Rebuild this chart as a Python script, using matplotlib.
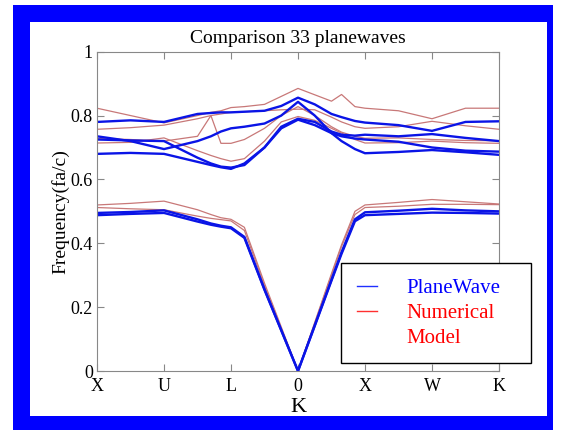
import matplotlib
matplotlib.use("Agg")
import matplotlib.pyplot as plt
from matplotlib.patches import Rectangle
from matplotlib.lines import Line2D

plt.rcParams['font.family'] = ['Liberation Serif', 'DejaVu Serif']

# path coordinate along X-U-L-Gamma-X-W-K
k = [0, 0.5, 1, 1.5, 1.7, 1.85, 2, 2.2, 2.5, 2.75, 3, 3.25, 3.5, 3.65, 3.85, 4, 4.5, 5, 5.5, 6]
tick_pos = [0, 1, 2, 3, 4, 5, 6]
tick_labels = ['X', 'U', 'L', '0', 'X', 'W', 'K']

# plane wave bands (blue)
pw_1 = [0.488, 0.492, 0.495, 0.468, 0.458, 0.452, 0.447, 0.417, 0.254, 0.127, 0.0, 0.141, 0.283, 0.367, 0.469, 0.488, 0.492, 0.496, 0.495, 0.493]
pw_2 = [0.495, 0.498, 0.503, 0.475, 0.462, 0.455, 0.450, 0.420, 0.256, 0.128, 0.0, 0.143, 0.286, 0.372, 0.475, 0.497, 0.502, 0.508, 0.503, 0.500]
pw_3 = [0.780, 0.785, 0.780, 0.805, 0.808, 0.810, 0.810, 0.812, 0.815, 0.830, 0.856, 0.835, 0.805, 0.795, 0.783, 0.778, 0.770, 0.752, 0.780, 0.782]
pw_4 = [0.735, 0.720, 0.695, 0.720, 0.735, 0.750, 0.760, 0.765, 0.775, 0.800, 0.843, 0.800, 0.745, 0.720, 0.695, 0.682, 0.686, 0.692, 0.685, 0.677]
pw_5 = [0.725, 0.722, 0.720, 0.668, 0.650, 0.640, 0.637, 0.645, 0.700, 0.765, 0.790, 0.780, 0.750, 0.740, 0.737, 0.740, 0.735, 0.742, 0.730, 0.720]
pw_6 = [0.680, 0.683, 0.680, 0.655, 0.645, 0.638, 0.633, 0.650, 0.700, 0.760, 0.787, 0.770, 0.745, 0.735, 0.728, 0.725, 0.718, 0.700, 0.690, 0.687]

# numerical model bands (red)
nm_1 = [0.512, 0.508, 0.505, 0.485, 0.478, 0.474, 0.470, 0.440, 0.268, 0.134, 0.0, 0.150, 0.300, 0.390, 0.490, 0.512, 0.516, 0.522, 0.522, 0.521]
nm_2 = [0.520, 0.525, 0.532, 0.505, 0.490, 0.480, 0.475, 0.450, 0.275, 0.138, 0.0, 0.152, 0.305, 0.395, 0.500, 0.520, 0.528, 0.537, 0.530, 0.523]
nm_3 = [0.823, 0.800, 0.777, 0.800, 0.810, 0.815, 0.825, 0.828, 0.835, 0.860, 0.885, 0.865, 0.845, 0.866, 0.828, 0.823, 0.815, 0.790, 0.823, 0.823]
nm_4 = [0.757, 0.762, 0.770, 0.790, 0.800, 0.805, 0.810, 0.812, 0.815, 0.818, 0.820, 0.818, 0.795, 0.780, 0.765, 0.760, 0.765, 0.782, 0.768, 0.757]
nm_5 = [0.728, 0.725, 0.720, 0.735, 0.800, 0.713, 0.713, 0.725, 0.760, 0.800, 0.828, 0.800, 0.765, 0.748, 0.735, 0.729, 0.730, 0.725, 0.722, 0.721]
nm_6 = [0.714, 0.716, 0.730, 0.690, 0.675, 0.665, 0.657, 0.665, 0.720, 0.780, 0.797, 0.785, 0.760, 0.745, 0.725, 0.714, 0.715, 0.720, 0.715, 0.713]

blue = '#0a14e6'
red = '#c87878'

fig = plt.figure(figsize=(5.63, 4.30), dpi=100)
fig.patch.set_facecolor('white')

# blue slide frame
fig.add_artist(Rectangle((0.0231, 0.0), 0.959, 0.9884, transform=fig.transFigure,
                         facecolor='#0000ff', edgecolor='none', zorder=-2))
fig.add_artist(Rectangle((0.0533, 0.0326), 0.9174, 0.917, transform=fig.transFigure,
                         facecolor='white', edgecolor='none', zorder=-1))

ax = fig.add_axes([0.1723, 0.1372, 0.714, 0.7426])
ax.set_facecolor('none')

for band in [nm_1, nm_2, nm_3, nm_4, nm_5, nm_6]:
    ax.plot(k, band, color=red, lw=0.9)
for band in [pw_1, pw_2, pw_3, pw_4, pw_5, pw_6]:
    ax.plot(k, band, color=blue, lw=1.7)

ax.set_xlim(0, 6)
ax.set_ylim(0, 1)
ax.set_xticks(tick_pos)
ax.set_xticklabels(tick_labels, fontsize=13)
ax.set_yticks([0, 0.2, 0.4, 0.6, 0.8, 1])
ax.set_yticklabels(['0', '0.2', '0.4', '0.6', '0.8', '1'], fontsize=13)
ax.tick_params(direction='in', top=True, right=True, length=5, color='#888888', pad=3)
ax.tick_params(axis='x', pad=5)
for s in ax.spines.values():
    s.set_color('#888888')

ax.set_title('Comparison 33 planewaves', fontsize=14, pad=6)
ax.set_ylabel('Frequency(fa/c)', fontsize=14, labelpad=1)
ax.set_xlabel('K', fontsize=16, labelpad=2)

handles = [Line2D([], [], color='#2030ff', lw=1.0),
           Line2D([], [], color='#ff3030', lw=1.0),
           Line2D([], [], color='none', lw=1.0)]
leg = fig.legend(handles, ['PlaneWave', 'Numerical', 'Model'], loc='upper left',
                 bbox_to_anchor=(0.6057, 0.1581, 0.3375, 0.2303), mode='expand',
                 bbox_transform=fig.transFigure, fontsize=15, frameon=True,
                 fancybox=False, edgecolor='black', framealpha=1,
                 handlelength=1.0, handletextpad=1.4, borderpad=0.75,
                 labelspacing=0.25, borderaxespad=0)
leg.get_frame().set_linewidth(1.0)
for t, c in zip(leg.get_texts(), ['#0000ff', '#ff0000', '#ff0000']):
    t.set_color(c)

fig.savefig('out.png', dpi=100)
